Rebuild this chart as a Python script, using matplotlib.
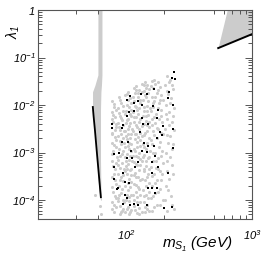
import matplotlib
matplotlib.use("Agg")
import matplotlib.pyplot as plt
import numpy as np
from matplotlib.ticker import FixedLocator, LogLocator, NullFormatter

plt.rcParams["mathtext.fontset"] = "custom"
plt.rcParams["mathtext.rm"] = "Liberation Sans:style=italic"
plt.rcParams["mathtext.it"] = "Liberation Sans:style=italic"
plt.rcParams["font.family"] = ["Liberation Sans", "DejaVu Sans"]

# resonance band (m_S1 ~ m_h/2): lambda, left and right edge in GeV
band_lam = [1.0, 4.3e-2, 2.6e-2, 1.9e-2, 7.9e-3, 3.0e-3, 7.0e-4, 1.6e-4, 1.0e-4]
band_left = [59.8, 59.8, 56.6, 54.2, 54.2, 56.1, 58.7, 60.9, 62.7]
band_right = [64.4, 64.4, 63.8, 63.2, 62.7, 62.7, 62.7, 63.2, 63.8]

# black line along the resonance
res_m = [54.4, 55.2, 56.6, 58.9, 61.4, 63.2]
res_lam = [9.5e-3, 6.0e-3, 3.0e-3, 8.9e-4, 2.6e-4, 1.1e-4]

# heavy wedge in the top right corner
wedge_m = [546, 644, 1000, 1000]
wedge_lam = [0.166, 1.0, 1.0, 0.31]
wedge_line_m = [540, 1000]
wedge_line_lam = [0.158, 0.31]

# grey scan points
grey_m = [
    78, 80, 77, 82, 79, 84, 78, 81, 77, 83, 79, 85, 78, 82, 80, 77, 84, 79, 81, 78, 83, 80,
    80, 83, 79, 77, 84, 81, 77, 83, 80, 78, 84, 79, 82, 78, 84, 80, 77,
    88, 92, 87, 95, 90, 86, 93, 89, 96, 87, 94, 91, 88, 95, 90, 86, 93, 89, 96, 87, 92, 95,
    88, 91, 94, 87, 90, 93, 89, 96,
    90, 94, 88, 92, 95, 88, 92, 89, 96, 93, 87, 95, 90, 93, 88, 95, 91, 86,
    99, 104, 108, 101, 106, 110, 98, 103, 109, 100, 106, 111, 98, 104, 108, 101, 110, 99,
    105, 102, 108, 98, 111, 104, 100, 107, 110, 101, 105, 99, 108, 103, 110, 100, 106, 103,
    109, 99, 105,
    102, 110, 104, 100, 107, 102, 108, 103, 110, 100, 106, 103, 109, 100, 106, 102, 109,
    98, 103, 109, 101, 106, 101, 107,
    115, 121, 127, 118, 124, 130, 116, 121, 127, 114, 124, 119, 129, 116, 123, 127, 114,
    120, 125, 117, 130, 122, 115, 126, 119, 129, 116, 123, 127, 118, 121, 128, 115, 124,
    119, 129, 116, 122, 127, 118, 123,
    119, 125, 114, 128, 118, 123, 116, 126, 120, 129, 117, 123, 128, 118, 124, 114, 120,
    128, 115, 125, 120, 127, 114, 122, 129, 116, 126,
    135, 142, 148, 138, 152, 145, 136, 150, 140, 146, 154, 137, 150, 143, 135, 153, 146,
    139, 151, 136, 144, 154, 140, 149, 135, 145, 153, 138, 147, 141, 152, 136, 144, 150,
    139, 146, 135, 142,
    139, 145, 150, 141, 134, 148, 138, 144, 152, 139, 148, 142, 135, 148, 140, 152, 137,
    143, 140, 150, 135, 145, 152, 138, 148, 141, 153,
    161, 170, 178, 165, 185, 175, 160, 190, 168, 182, 196, 163, 174, 188, 160, 194, 170,
    181, 165, 198, 175, 186, 162, 192, 171, 180, 164, 195, 174, 185, 161, 190, 170, 180,
    165, 196, 175, 162,
    168, 158, 180, 170, 186, 164, 178, 158, 190, 168, 182, 160, 175, 190, 168, 158, 182,
    165, 188, 172, 158, 180, 166, 193, 176, 160, 186, 170, 158, 185, 168,
    210, 225, 205, 236, 215, 228, 207, 240, 220, 212, 232, 205, 225, 215, 238, 208, 222,
    230, 210, 218, 206, 226, 240, 212,
    218, 232, 210, 222, 235, 208, 218, 240, 210, 230, 212, 235, 215, 205, 230,
    56.6, 62.1, 63.2,
]
grey_lam = [
    1.2e-2, 9e-3, 7e-3, 5.5e-3, 4.5e-3, 3.5e-3, 2.6e-3, 2.1e-3, 1.6e-3, 1.3e-3, 1.1e-3,
    8e-4, 6.5e-4, 4.5e-4, 3.6e-4, 3.0e-4, 2.2e-4, 1.5e-4, 1.2e-4, 9e-5, 7e-5, 5.5e-5,
    1.05e-2, 7.8e-3, 6.2e-3, 5e-3, 4e-3, 3e-3, 2.4e-3, 1.8e-3, 1.45e-3, 9.5e-4, 6e-4,
    5.2e-4, 2.6e-4, 1.9e-4, 1.1e-4, 8e-5, 6.5e-5,
    1.5e-2, 1.1e-2, 8.5e-3, 7.5e-3, 6e-3, 4.2e-3, 4.8e-3, 3e-3, 2.8e-3, 2.2e-3, 2e-3,
    1.5e-3, 1.2e-3, 1.1e-3, 8.5e-4, 7e-4, 6e-4, 4.8e-4, 4.5e-4, 3.5e-4, 3e-4, 2.5e-4,
    2e-4, 1.4e-4, 1e-4, 1.1e-4, 7.5e-5, 6e-5, 5e-5, 9e-5,
    1.3e-2, 9.5e-3, 6.8e-3, 5.3e-3, 3.8e-3, 3.4e-3, 2.5e-3, 1.75e-3, 1.6e-3, 9.5e-4,
    5.5e-4, 3.3e-4, 2.6e-4, 1.7e-4, 1.3e-4, 6.5e-5, 5.5e-5, 9.5e-5,
    1.6e-2, 1.9e-2, 1.4e-2, 1.0e-2, 9e-3, 8e-3, 6.5e-3, 5e-3, 5.8e-3, 4.2e-3, 3.6e-3,
    3.1e-3, 2.8e-3, 2.4e-3, 2e-3, 1.9e-3, 1.5e-3, 1.3e-3, 1.2e-3, 9.5e-4, 8.5e-4, 8e-4,
    6.5e-4, 5.8e-4, 5.2e-4, 4.2e-4, 3.3e-4, 3.5e-4, 2.8e-4, 2e-4, 1.9e-4, 1.6e-4, 1.3e-4,
    1.0e-4, 9.5e-5, 7e-5, 6.2e-5, 5.5e-5, 5e-5,
    1.7e-2, 1.1e-2, 1.25e-2, 7.5e-3, 6.5e-3, 4.8e-3, 4.2e-3, 3.2e-3, 2.5e-3, 2.2e-3,
    1.6e-3, 1.35e-3, 1.1e-3, 6.5e-4, 7e-4, 4.5e-4, 4.6e-4, 4e-4, 2.3e-4, 2.4e-4, 1.3e-4,
    1.15e-4, 6.5e-5, 5.5e-5,
    2.3e-2, 2.5e-2, 2.1e-2, 1.8e-2, 1.5e-2, 1.3e-2, 1.2e-2, 9e-3, 8.5e-3, 7e-3, 6.5e-3,
    5.5e-3, 5e-3, 4.3e-3, 3.5e-3, 3.2e-3, 2.9e-3, 2.5e-3, 2.1e-3, 1.9e-3, 1.8e-3, 1.3e-3,
    1.2e-3, 1.0e-3, 8.5e-4, 7.2e-4, 6.2e-4, 5.5e-4, 4.2e-4, 3.8e-4, 3.1e-4, 2.6e-4,
    2.2e-4, 1.9e-4, 1.5e-4, 1.3e-4, 1.0e-4, 9e-5, 6.8e-5, 6.2e-5, 5.3e-5,
    2.1e-2, 1.8e-2, 1.5e-2, 1.1e-2, 9.5e-3, 7.8e-3, 5.5e-3, 4.5e-3, 3.8e-3, 2.6e-3,
    2.4e-3, 1.65e-3, 1.4e-3, 1.1e-3, 8e-4, 8.5e-4, 5.8e-4, 5.5e-4, 3.4e-4, 3.1e-4,
    2.1e-4, 1.7e-4, 1.3e-4, 1.15e-4, 9e-5, 7.5e-5, 5.2e-5,
    2.8e-2, 3.0e-2, 2.6e-2, 2.0e-2, 2.2e-2, 1.5e-2, 1.3e-2, 1.2e-2, 9e-3, 7.5e-3, 8.5e-3,
    6e-3, 6.2e-3, 4.6e-3, 3.7e-3, 3.4e-3, 2.9e-3, 2.3e-3, 2.0e-3, 1.5e-3, 1.2e-3, 1.1e-3,
    9e-4, 7.5e-4, 6.5e-4, 5.3e-4, 4.6e-4, 4.0e-4, 3.0e-4, 2.6e-4, 2.3e-4, 1.6e-4, 1.3e-4,
    1.1e-4, 9e-5, 6.5e-5, 5.5e-5, 5.5e-5,
    2.6e-2, 2.3e-2, 1.8e-2, 1.6e-2, 1.9e-2, 9.5e-3, 7.5e-3, 5.8e-3, 4.5e-3, 4e-3, 3.8e-3,
    2.6e-3, 2.2e-3, 1.6e-3, 1.3e-3, 8e-4, 8e-4, 6.5e-4, 4.6e-4, 3.5e-4, 2.8e-4, 2e-4,
    1.5e-4, 1.2e-4, 8e-5, 7e-5, 6e-5,
    3.2e-2, 2.8e-2, 3.1e-2, 2.3e-2, 2.4e-2, 1.8e-2, 1.5e-2, 1.6e-2, 1.2e-2, 1.1e-2, 1.3e-2,
    9e-3, 6.5e-3, 6e-3, 5e-3, 4.5e-3, 4.2e-3, 3.2e-3, 2.8e-3, 2.5e-3, 2.0e-3, 1.7e-3,
    1.5e-3, 1.1e-3, 1.0e-3, 7.5e-4, 6.5e-4, 6e-4, 4.8e-4, 4e-4, 3.2e-4, 2.7e-4, 2.3e-4,
    1.5e-4, 1.2e-4, 1.0e-4, 8e-5, 6e-5,
    3.3e-2, 2.5e-2, 2.1e-2, 1.5e-2, 1.3e-2, 1.1e-2, 8.5e-3, 7.5e-3, 8e-3, 5.5e-3, 5e-3,
    3.8e-3, 3.3e-3, 2.6e-3, 2.3e-3, 1.8e-3, 1.3e-3, 1.0e-3, 8.5e-4, 6.5e-4, 5e-4, 4.5e-4,
    3.5e-4, 3.5e-4, 2.7e-4, 2e-4, 1.7e-4, 1.4e-4, 1.1e-4, 8e-5, 7e-5,
    4.0e-2, 3.3e-2, 2.6e-2, 2.2e-2, 1.7e-2, 1.4e-2, 1.0e-2, 8.5e-3, 7e-3, 5e-3, 4.5e-3,
    3.2e-3, 2.2e-3, 1.6e-3, 1.5e-3, 1.0e-3, 8e-4, 5.5e-4, 4e-4, 2.8e-4, 2.0e-4, 1.2e-4,
    6.5e-5, 6e-5,
    3.0e-2, 2.6e-2, 2.0e-2, 1.1e-2, 6e-3, 6.5e-3, 3.8e-3, 3e-3, 2.3e-3, 1.2e-3, 6.5e-4,
    3.5e-4, 1.6e-4, 1.0e-4, 8e-5,
    1.3e-4, 7.5e-5, 5e-5,
]

# black points (allowed ones)
black_m = [
    240, 231, 245, 167, 219, 131, 107, 147, 215, 102, 124, 134, 116, 235, 164, 105, 116,
    179, 102, 176, 134, 78, 94, 93, 136, 149, 196, 78, 129, 186, 235, 193, 176,
    93, 104, 139, 149, 167, 88, 109, 134, 147, 235, 170, 80, 102, 111, 124, 161, 179, 118,
    80, 94, 161, 215, 80, 98, 105, 86, 85, 161, 176, 149, 98, 102, 170, 94, 107, 116, 124,
    147, 200, 231,
]
black_lam = [
    5.0e-2, 3.7e-2, 3.5e-2, 2.2e-2, 1.9e-2, 1.7e-2, 1.55e-2, 1.7e-2, 1.4e-2, 1.3e-2,
    1.2e-2, 1.0e-2, 1.1e-2, 1.0e-2, 9.5e-3, 7.2e-3, 7.5e-3, 7.9e-3, 5.9e-3, 5.3e-3,
    5.3e-3, 4.0e-3, 3.8e-3, 3.3e-3, 4.0e-3, 4.0e-3, 3.6e-3, 3.3e-3, 2.7e-3, 2.7e-3,
    3.1e-3, 2.3e-3, 2.0e-3,
    1.7e-3, 1.7e-3, 1.6e-3, 1.4e-3, 1.4e-3, 1.0e-3, 1.1e-3, 1.1e-3, 1.05e-3, 1.25e-3,
    8.5e-4, 9.3e-4, 7.7e-4, 7.7e-4, 6.3e-4, 6.3e-4, 5.0e-4, 5.0e-4, 5.0e-4, 3.7e-4,
    3.7e-4, 3.7e-4, 2.8e-4, 2.4e-4, 2.3e-4, 1.8e-4, 1.7e-4, 1.8e-4, 1.8e-4, 1.8e-4,
    1.3e-4, 1.1e-4, 1.4e-4, 8.2e-5, 7.9e-5, 8.2e-5, 7.9e-5, 7.9e-5, 6.8e-5, 7.1e-5,
]

grey = "#cccccc"
frame = "#555555"

fig = plt.figure(figsize=(2.66, 2.57), dpi=100)
ax = fig.add_axes([0.143, 0.148, 0.804, 0.813])

ax.fill_betweenx(band_lam, band_left, band_right, color=grey, lw=0)
ax.fill(wedge_m, wedge_lam, color=grey, lw=0)
ax.scatter(grey_m, grey_lam, s=5, marker="o", color=grey, linewidths=0)
ax.plot(res_m, res_lam, color="black", lw=1.3, solid_capstyle="butt")
ax.plot(wedge_line_m, wedge_line_lam, color="black", lw=1.4)
ax.scatter(black_m, black_lam, s=3, marker="s", color="black", linewidths=0)

ax.set_xscale("log")
ax.set_yscale("log")
ax.set_xlim(20, 1000)
ax.set_ylim(4e-5, 1)

ax.xaxis.set_major_locator(FixedLocator([100, 1000]))
ax.xaxis.set_minor_locator(FixedLocator([40, 60, 200, 500, 600, 700, 800, 900]))
ax.set_xticklabels(["$10^2$", "$10^3$"])
ax.xaxis.set_minor_formatter(NullFormatter())
ax.yaxis.set_major_locator(FixedLocator([1e-4, 1e-3, 1e-2, 1e-1, 1]))
ax.yaxis.set_minor_locator(LogLocator(base=10, subs=np.arange(2, 10)))
ax.yaxis.set_minor_formatter(NullFormatter())
ax.set_yticklabels(["$10^{-4}$", "$10^{-3}$", "$10^{-2}$", "$10^{-1}$", "$1$"])

ax.tick_params(axis="both", which="both", direction="in", top=True, right=True,
               color=frame, width=0.7, labelsize=8)
ax.tick_params(axis="x", which="major", length=0, pad=6.5)
ax.tick_params(axis="x", which="minor", length=3)
ax.tick_params(axis="y", which="major", length=5, pad=2)
ax.tick_params(axis="y", which="minor", length=3)
for sp in ax.spines.values():
    sp.set_color(frame)
    sp.set_linewidth(0.8)

fig.text(197 / 266, 1 - 248 / 257, "$m_{S_1}\\ (GeV)$", fontsize=11,
         ha="center", va="baseline")
fig.text(13 / 266, 1 - 32 / 257, "$\\lambda_1$", fontsize=10, rotation=90,
         ha="center", va="center")

fig.savefig("out.png", dpi=100)
